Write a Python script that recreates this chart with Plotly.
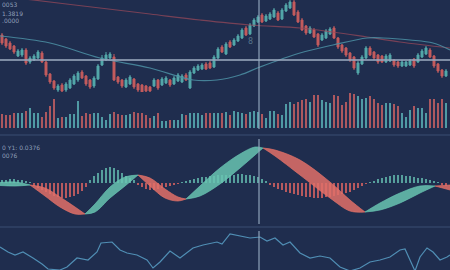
import plotly.graph_objects as go

# ---------------- data ----------------
opens = [1.365,1.361,1.357,1.354,1.344,1.345,1.350,1.338,1.340,1.342,1.347,1.338,1.326,1.319,1.310,1.315,1.310,1.312,1.316,1.320,
         1.328,1.324,1.320,1.314,1.321,1.335,1.340,1.342,1.343,1.323,1.320,1.313,1.316,1.321,1.316,1.315,1.314,1.313,1.314,1.320,
         1.315,1.317,1.320,1.316,1.319,1.318,1.325,1.312,1.327,1.330,1.331,1.336,1.337,1.333,1.342,1.353,1.346,1.358,1.355,1.359,
         1.362,1.372,1.366,1.374,1.378,1.385,1.379,1.381,1.383,1.387,1.381,1.389,1.392,1.398,1.388,1.380,1.374,1.367,1.370,1.366,
         1.360,1.362,1.366,1.372,1.362,1.355,1.352,1.347,1.343,1.327,1.336,1.342,1.352,1.348,1.345,1.344,1.338,1.339,1.340,1.338,
         1.334,1.334,1.335,1.341,1.338,1.343,1.346,1.350,1.344,1.336,1.330,1.324]
highs = [1.367,1.362,1.359,1.355,1.351,1.352,1.352,1.344,1.346,1.350,1.349,1.339,1.327,1.320,1.316,1.317,1.318,1.322,1.326,1.329,
         1.330,1.325,1.321,1.324,1.336,1.345,1.348,1.348,1.346,1.324,1.321,1.322,1.325,1.322,1.317,1.316,1.315,1.314,1.322,1.321,
         1.323,1.324,1.321,1.324,1.327,1.326,1.327,1.330,1.334,1.336,1.337,1.338,1.339,1.345,1.353,1.355,1.358,1.360,1.362,1.366,
         1.372,1.374,1.377,1.382,1.385,1.387,1.386,1.388,1.392,1.389,1.392,1.397,1.400,1.400,1.390,1.382,1.375,1.374,1.372,1.367,
         1.367,1.371,1.373,1.374,1.363,1.356,1.353,1.348,1.344,1.339,1.345,1.354,1.354,1.349,1.346,1.345,1.346,1.347,1.341,1.339,
         1.340,1.339,1.341,1.342,1.347,1.351,1.354,1.352,1.345,1.337,1.331,1.331]
lows = [1.355,1.352,1.350,1.346,1.343,1.343,1.335,1.336,1.339,1.341,1.337,1.323,1.316,1.310,1.308,1.307,1.308,1.311,1.315,1.318,
        1.321,1.314,1.311,1.312,1.320,1.334,1.339,1.341,1.319,1.316,1.312,1.312,1.315,1.311,1.308,1.306,1.307,1.307,1.313,1.310,
        1.314,1.316,1.313,1.315,1.318,1.317,1.319,1.311,1.326,1.329,1.330,1.330,1.331,1.332,1.341,1.347,1.345,1.352,1.354,1.358,
        1.361,1.364,1.365,1.373,1.377,1.377,1.378,1.380,1.382,1.379,1.380,1.388,1.391,1.384,1.377,1.369,1.365,1.366,1.362,1.353,
        1.359,1.361,1.365,1.361,1.351,1.347,1.343,1.338,1.330,1.325,1.335,1.341,1.344,1.340,1.336,1.337,1.337,1.338,1.333,1.332,
        1.333,1.333,1.334,1.332,1.337,1.342,1.345,1.342,1.332,1.327,1.322,1.323]
closes = [1.357,1.354,1.351,1.348,1.349,1.350,1.337,1.342,1.344,1.348,1.338,1.325,1.318,1.312,1.314,1.309,1.316,1.320,1.324,1.327,
          1.322,1.316,1.313,1.322,1.334,1.342,1.345,1.346,1.320,1.318,1.314,1.320,1.323,1.313,1.310,1.308,1.309,1.309,1.320,1.312,
          1.321,1.322,1.315,1.322,1.325,1.324,1.320,1.328,1.332,1.334,1.335,1.331,1.332,1.343,1.351,1.348,1.356,1.353,1.360,1.364,
          1.370,1.365,1.375,1.380,1.383,1.378,1.384,1.386,1.390,1.380,1.390,1.395,1.398,1.385,1.378,1.370,1.367,1.372,1.363,1.355,
          1.365,1.369,1.371,1.362,1.353,1.349,1.345,1.340,1.332,1.337,1.343,1.352,1.345,1.342,1.338,1.338,1.344,1.345,1.335,1.334,
          1.338,1.338,1.339,1.334,1.345,1.349,1.352,1.343,1.334,1.329,1.324,1.329]
volumes = [14,13,13,15,15,15,17,20,15,15,11,16,22,29,10,11,11,14,14,27,
           12,15,14,15,15,11,8,14,16,14,13,13,14,16,15,15,13,10,12,15,
           7,7,8,8,8,14,13,15,15,15,13,15,15,15,15,15,16,13,17,16,
           15,14,16,17,16,14,10,17,17,14,13,24,26,24,26,28,29,26,33,33,
           28,26,25,33,32,23,26,35,34,32,29,30,32,29,25,23,25,25,24,22,
           15,11,18,22,20,20,15,29,29,25,29,25]
macd_hist = [0.003,0.003,0.004,0.004,0.003,0.003,0.002,0.001,-0.003,-0.005,-0.007,-0.009,-0.011,-0.013,-0.014,-0.015,-0.015,-0.014,-0.013,-0.011,
             -0.008,-0.004,0.003,0.007,0.010,0.013,0.015,0.016,0.015,0.013,0.010,0.007,0.005,0.003,-0.002,-0.004,-0.006,-0.007,-0.007,-0.006,
             -0.005,-0.004,-0.003,-0.002,-0.001,0.001,0.002,0.003,0.004,0.005,0.006,0.006,0.007,0.007,0.008,0.008,0.008,0.008,0.008,0.009,
             0.009,0.008,0.008,0.007,0.006,0.004,0.002,-0.002,-0.004,-0.006,-0.007,-0.009,-0.010,-0.011,-0.012,-0.013,-0.014,-0.014,-0.015,-0.015,
             -0.015,-0.014,-0.014,-0.013,-0.012,-0.011,-0.010,-0.009,-0.007,-0.005,-0.003,-0.001,0.001,0.002,0.004,0.005,0.006,0.007,0.008,0.008,
             0.008,0.007,0.007,0.006,0.005,0.005,0.004,0.003,0.002,0.001,-0.002,-0.003]

ma_red_t = [-0.5, 7.75, 24.5, 37, 49.5, 62, 74.5, 82.75, 91.25, 99.5, 112]
ma_red = [1.404, 1.400, 1.392, 1.386, 1.380, 1.375, 1.372, 1.368, 1.363, 1.358, 1.352]
ma_teal_t = [-0.5, 12, 24.5, 37, 47.75, 53.75, 59.5, 64.5, 74.5, 82.75, 91.25, 95.25, 102, 107.75, 112]
ma_teal = [1.364, 1.357, 1.342, 1.332, 1.320, 1.320, 1.325, 1.333, 1.347, 1.355, 1.362, 1.362, 1.360, 1.357, 1.350]

macd_t = [-0.5, 3.25, 7, 10.75, 14.5, 18.25, 20.75, 23.25, 27, 30.75, 34, 37, 40.75, 44, 46, 49.5, 54.5, 59.5,
          63.25, 65.25, 68.25, 74.5, 82, 87, 90.75, 94.5, 99.5, 104.5, 108.25, 112]
macd_fast = [0.0005, 0.001, -0.002, -0.013, -0.024, -0.031, -0.031, -0.021, -0.004, 0.006, 0.008, -0.003, -0.015, -0.018,
             -0.016, -0.003, 0.015, 0.029, 0.036, 0.035, 0.027, 0.008, -0.015, -0.028, -0.029, -0.020, -0.010, -0.003, -0.003, -0.007]
macd_slow = [-0.0025, -0.003, -0.002, -0.005, -0.014, -0.024, -0.031, -0.029, -0.015, -0.003, 0.008, 0.005, -0.006, -0.014,
             -0.016, -0.013, -0.001, 0.015, 0.028, 0.035, 0.033, 0.023, 0.001, -0.017, -0.029, -0.027, -0.020, -0.010, -0.003, -0.002]

rsi_t = [-0.5, 1.5, 3.25, 5.25, 7.75, 10, 11.5, 14.5, 16.25, 18.75, 21.5, 23.75, 24.75, 27.5, 29.5, 31.25, 33.75, 36.25,
         37.75, 39.5, 42, 44.5, 47.75, 50.25, 53.75, 55, 57, 60.25, 62, 64.5, 66.25, 68.25, 70.25, 72, 74.5, 77, 79.5,
         82, 84.5, 87, 89.5, 92, 94.5, 97, 99.5, 100.75, 102, 103.25, 104.5, 106.25, 107.75, 109.5, 111.25, 112]
rsi = [49, 44, 41, 44, 38, 32, 27, 26, 29, 38, 36, 44, 53, 54, 46, 43, 41, 36,
       28, 34, 45, 38, 48, 51, 54, 52, 62, 59, 58, 59, 55, 58, 51, 54, 43, 38, 40,
       38, 29, 25, 28, 34, 36, 39, 46, 47, 36, 25, 39, 48, 44, 36, 39, 41]

info_top = ["0053", "1.3819", ".0000"]
info_macd = ["0 Y1: 0.0376", "0076"]
crosshair_t = 64.25
crosshair_price = 1.340

# ---------------- style ----------------
BG = "rgb(31,45,78)"
TEAL = "rgb(84,168,170)"
RED = "rgb(196,92,94)"
VTEAL = "rgba(88,170,176,0.88)"
VRED = "rgba(192,94,98,0.88)"
RIB_TEAL = "rgba(104,196,178,0.85)"
RIB_RED = "rgba(226,112,104,0.85)"
HTEAL = "rgba(96,180,170,0.85)"
HRED = "rgba(210,98,98,0.85)"
TXT = "rgba(165,182,205,0.85)"

n = len(opens)
idx = list(range(n))

fig = go.Figure()

# volume
vcol = [VTEAL if c >= o else VRED for o, c in zip(opens, closes)]
fig.add_trace(go.Bar(x=idx, y=volumes, marker=dict(color=vcol, line=dict(width=0)), width=0.58, yaxis="y2"))

# moving averages
fig.add_trace(go.Scatter(x=ma_red_t, y=ma_red, mode="lines", line=dict(color="rgba(150,72,90,0.75)", width=1.2, shape="spline"), yaxis="y"))
fig.add_trace(go.Scatter(x=ma_teal_t, y=ma_teal, mode="lines", line=dict(color="rgba(76,145,165,0.85)", width=1.2, shape="spline"), yaxis="y"))

# candles
fig.add_trace(go.Candlestick(x=idx, open=opens, high=highs, low=lows, close=closes,
                             increasing=dict(line=dict(color=TEAL, width=1), fillcolor=TEAL),
                             decreasing=dict(line=dict(color=RED, width=1), fillcolor=RED),
                             whiskerwidth=0, yaxis="y"))

# MACD histogram
hcol = [HTEAL if v >= 0 else HRED for v in macd_hist]
fig.add_trace(go.Bar(x=idx, y=macd_hist, marker=dict(color=hcol, line=dict(width=0)), width=0.4, yaxis="y3"))

# MACD ribbon segments
start = 0
for k in range(1, len(macd_t)):
    if macd_fast[k] == macd_slow[k] or k == len(macd_t) - 1:
        ts = macd_t[start:k + 1]
        fs = macd_fast[start:k + 1]
        ss = macd_slow[start:k + 1]
        up = sum(f - s for f, s in zip(fs, ss)) > 0
        col = RIB_TEAL if up else RIB_RED
        fig.add_trace(go.Scatter(x=ts, y=ss, mode="lines", line=dict(color=col, width=0.8, shape="spline"), yaxis="y3"))
        fig.add_trace(go.Scatter(x=ts, y=fs, mode="lines", fill="tonexty", fillcolor=col,
                                 line=dict(color=col, width=0.8, shape="spline"), yaxis="y3"))
        start = k

# RSI line
fig.add_trace(go.Scatter(x=rsi_t, y=rsi, mode="lines", line=dict(color="rgb(80,142,180)", width=1.2), yaxis="y4"))

H = 270.0
def pf(p):
    return 1 - p / H

shapes = [
    dict(type="line", xref="paper", x0=0, x1=1, yref="y", y0=crosshair_price, y1=crosshair_price,
         line=dict(color="rgba(150,165,188,0.8)", width=2)),
    dict(type="line", xref="paper", x0=0, x1=1, yref="paper", y0=pf(135), y1=pf(135),
         line=dict(color="rgba(70,92,132,0.7)", width=1)),
    dict(type="line", xref="paper", x0=0, x1=1, yref="paper", y0=pf(227), y1=pf(227),
         line=dict(color="rgba(70,92,132,0.7)", width=1)),
]
for a, b in [(0, 129), (139, 224), (231, 270)]:
    shapes.append(dict(type="line", xref="x", x0=crosshair_t, x1=crosshair_t, yref="paper", y0=pf(b), y1=pf(a),
                       line=dict(color="rgba(150,172,194,0.75)", width=1.5)))

annotations = []
for t, p in zip(info_top, [5, 13, 21]):
    annotations.append(dict(text=t, xref="paper", yref="paper", x=0.0, y=pf(p), xanchor="left", yanchor="middle",
                            showarrow=False, font=dict(size=6, color=TXT, family="DejaVu Sans")))
for t, p in zip(info_macd, [147, 155]):
    annotations.append(dict(text=t, xref="paper", yref="paper", x=0.0, y=pf(p), xanchor="left", yanchor="middle",
                            showarrow=False, font=dict(size=6, color=TXT, family="DejaVu Sans")))
annotations.append(dict(text="8", xref="x", yref="y", x=62, y=1.359, showarrow=False,
                        font=dict(size=8, color="rgba(100,135,155,0.8)", family="DejaVu Sans")))

fig.update_layout(
    width=450, height=270, margin=dict(l=0, r=0, t=0, b=0),
    paper_bgcolor=BG, plot_bgcolor=BG, showlegend=False, bargap=0,
    xaxis=dict(range=[-0.5, 112], visible=False, rangeslider=dict(visible=False), fixedrange=True),
    yaxis=dict(domain=[pf(95), 1.0], range=[1.305, 1.400], visible=False),
    yaxis2=dict(domain=[pf(128), pf(92)], range=[0, 36], visible=False, anchor="x"),
    yaxis3=dict(domain=[pf(226), pf(140)], range=[-0.043, 0.043], visible=False, anchor="x"),
    yaxis4=dict(domain=[0.0, pf(230)], range=[26, 66], visible=False, anchor="x"),
    shapes=shapes, annotations=annotations,
)

fig.write_html("out.html")
